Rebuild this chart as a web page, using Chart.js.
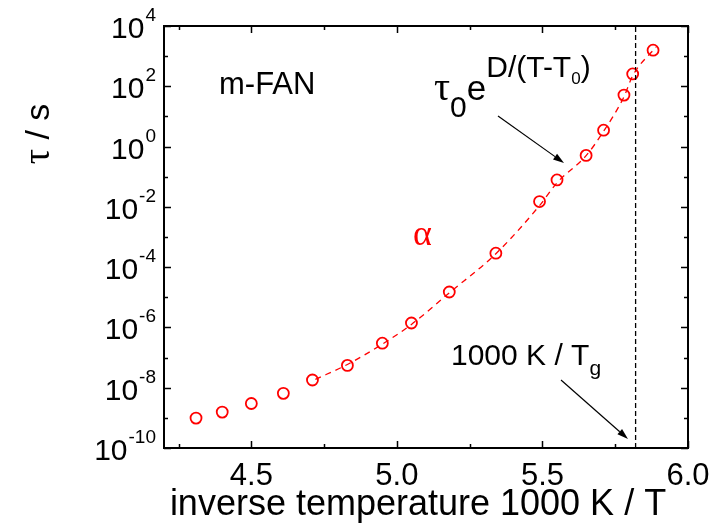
<!DOCTYPE html>
<html>
<head>
<meta charset="utf-8">
<script src="https://cdn.jsdelivr.net/npm/chart.js@4"></script>
<style>
  body { margin: 0; background: #fff; }
  #wrap { width: 726px; height: 525px; }
</style>
</head>
<body>
<div id="wrap"><canvas id="c" width="726" height="525"></canvas></div>
<script>
// relaxation times, alpha process (1000 K / T  vs  tau in s)
const invTemp = [4.31, 4.40, 4.50, 4.61, 4.71, 4.83, 4.95, 5.05, 5.18, 5.34, 5.49, 5.55, 5.65, 5.71, 5.78, 5.81, 5.88];
const tauAlpha = [9.8e-10, 1.55e-9, 3.0e-9, 6.5e-9, 1.8e-8, 5.5e-8, 3.0e-7, 1.4e-6, 1.5e-5, 2.9e-4, 1.5e-2, 7.8e-2, 0.51, 3.5, 51, 257, 1580];

// VFT fit
const fitX = [4.72, 4.83, 4.95, 5.05, 5.18, 5.34, 5.49, 5.55, 5.65, 5.71, 5.78, 5.81, 5.89];
const fitY = [1.9e-8, 5.9e-8, 2.8e-7, 1.26e-6, 1.4e-5, 2.8e-4, 1.1e-2, 6.3e-2, 0.5, 3.2, 45, 224, 2000];

// glass transition marker
const tgInv = 5.82;

// axes
const xMin = 4.2, xMax = 6.0;
const yMinExp = -10, yMaxExp = 4;
const xTicksMajor = [4.5, 5.0, 5.5, 6.0];
const xTickLabels = ['4.5', '5.0', '5.5', '6.0'];
const xTicksMinor = [4.25, 4.75, 5.25, 5.75];
const yExpMajor = [-10, -8, -6, -4, -2, 0, 2, 4];
const yExpMinor = [-9, -7, -5, -3, -1, 1, 3];

const SANS = '"Liberation Sans", Arial, sans-serif';
const SERIF = '"Liberation Serif", "Times New Roman", serif';
const RED = '#ff0000';

function arrow(ctx, x1, y1, x2, y2) {
  const a = Math.atan2(y2 - y1, x2 - x1);
  const L = 11, W = 3.5;
  ctx.beginPath();
  ctx.moveTo(x1, y1);
  ctx.lineTo(x2 - L * Math.cos(a), y2 - L * Math.sin(a));
  ctx.stroke();
  ctx.beginPath();
  ctx.moveTo(x2, y2);
  ctx.lineTo(x2 - L * Math.cos(a) + W * Math.sin(a), y2 - L * Math.sin(a) - W * Math.cos(a));
  ctx.lineTo(x2 - L * Math.cos(a) - W * Math.sin(a), y2 - L * Math.sin(a) + W * Math.cos(a));
  ctx.closePath();
  ctx.fill();
}

// run of text pieces: [text, font, dy]
function textRun(ctx, x, y, parts) {
  for (const [t, f, dy] of parts) {
    ctx.font = f;
    ctx.fillText(t, x, y + dy);
    x += ctx.measureText(t).width;
  }
}

const framePlugin = {
  id: 'frame',
  afterDraw(chart) {
    const { ctx, chartArea: a, scales: { x, y } } = chart;
    ctx.save();
    ctx.strokeStyle = '#000';
    ctx.fillStyle = '#000';

    // frame
    ctx.lineWidth = 2;
    ctx.strokeRect(a.left, a.top, a.right - a.left, a.bottom - a.top);

    // inward ticks on all four sides
    ctx.lineWidth = 1.5;
    const tickX = (v, len) => {
      const px = Math.round(x.getPixelForValue(v)) + 0.5;
      ctx.beginPath();
      ctx.moveTo(px, a.bottom); ctx.lineTo(px, a.bottom - len);
      ctx.moveTo(px, a.top); ctx.lineTo(px, a.top + len);
      ctx.stroke();
    };
    const tickY = (e, len) => {
      const py = Math.round(y.getPixelForValue(Math.pow(10, e))) + 0.5;
      ctx.beginPath();
      ctx.moveTo(a.left, py); ctx.lineTo(a.left + len, py);
      ctx.moveTo(a.right, py); ctx.lineTo(a.right - len, py);
      ctx.stroke();
    };
    xTicksMajor.forEach(v => tickX(v, 7));
    xTicksMinor.forEach(v => tickX(v, 4));
    yExpMajor.forEach(e => tickY(e, 7));
    yExpMinor.forEach(e => tickY(e, 4));

    // x tick labels
    ctx.textAlign = 'center';
    ctx.textBaseline = 'alphabetic';
    ctx.font = '31px ' + SANS;
    xTicksMajor.forEach((v, i) => ctx.fillText(xTickLabels[i], x.getPixelForValue(v), 485));

    // y tick labels 10^n
    ctx.textAlign = 'left';
    yExpMajor.forEach(e => {
      const py = y.getPixelForValue(Math.pow(10, e));
      const sup = String(e);
      ctx.font = '19px ' + SANS;
      const ws = ctx.measureText(sup).width;
      ctx.font = '30px ' + SANS;
      const wm = ctx.measureText('10').width;
      const x0 = a.left - 9 - ws - wm;
      ctx.fillText('10', x0, py + 12);
      ctx.font = '19px ' + SANS;
      ctx.fillText(sup, x0 + wm + 1, py - 5);
    });

    // x axis title
    ctx.textAlign = 'center';
    ctx.font = '36px ' + SANS;
    ctx.fillText('inverse temperature 1000 K / T', 418, 515);

    // y axis title
    ctx.save();
    ctx.translate(49, 134);
    ctx.rotate(-Math.PI / 2);
    ctx.textAlign = 'left';
    ctx.font = '38px ' + SERIF;
    const wt = ctx.measureText('τ').width;
    ctx.font = '34px ' + SANS;
    const wr = ctx.measureText(' / s').width;
    const sx = -(wt + wr) / 2;
    ctx.font = '38px ' + SERIF;
    ctx.fillText('τ', sx, 0);
    ctx.font = '34px ' + SANS;
    ctx.fillText(' / s', sx + wt, 0);
    ctx.restore();

    // sample name
    ctx.textAlign = 'left';
    ctx.font = '31px ' + SANS;
    ctx.fillText('m-FAN', 219, 94);

    // VFT formula
    textRun(ctx, 434, 100, [
      ['τ', '40px ' + SERIF, 0],
      ['0', '30px ' + SANS, 17],
      ['e', '35px ' + SANS, 0],
      ['D/(T-T', '30px ' + SANS, -23],
      ['0', '17px ' + SANS, -16],
      [')', '30px ' + SANS, -23],
    ]);
    ctx.lineWidth = 1.2;
    arrow(ctx, 498, 116, 564, 163);

    // Tg label
    textRun(ctx, 451, 365, [
      ['1000 K / T', '30px ' + SANS, 0],
      ['g', '21px ' + SANS, 10],
    ]);
    arrow(ctx, 561, 380, 628, 439);

    // alpha
    ctx.fillStyle = RED;
    ctx.font = '36px ' + SERIF;
    ctx.fillText('α', 413, 245);

    ctx.restore();
  }
};

new Chart(document.getElementById('c'), {
  type: 'scatter',
  data: {
    datasets: [
      {
        label: 'fit',
        type: 'line',
        data: fitX.map((v, i) => ({ x: v, y: fitY[i] })),
        borderColor: RED,
        borderWidth: 1.3,
        borderDash: [6, 5],
        pointRadius: 0,
        fill: false,
        cubicInterpolationMode: 'monotone',
      },
      {
        label: 'Tg',
        type: 'line',
        data: [{ x: tgInv, y: Math.pow(10, yMinExp) }, { x: tgInv, y: Math.pow(10, yMaxExp) }],
        borderColor: '#000',
        borderWidth: 1.3,
        borderDash: [5, 3],
        pointRadius: 0,
        fill: false,
      },
      {
        label: 'alpha',
        data: invTemp.map((v, i) => ({ x: v, y: tauAlpha[i] })),
        pointStyle: 'circle',
        pointRadius: 5.5,
        pointBorderWidth: 1.8,
        pointBorderColor: RED,
        pointBackgroundColor: 'rgba(0,0,0,0)',
        showLine: false,
      },
    ],
  },
  options: {
    responsive: false,
    animation: false,
    layout: { padding: { left: 164, right: 38, top: 26, bottom: 77 } },
    plugins: { legend: { display: false }, tooltip: { enabled: false } },
    scales: {
      x: { type: 'linear', min: xMin, max: xMax, display: false },
      y: { type: 'logarithmic', min: Math.pow(10, yMinExp), max: Math.pow(10, yMaxExp), display: false },
    },
  },
  plugins: [framePlugin],
});
</script>
</body>
</html>
